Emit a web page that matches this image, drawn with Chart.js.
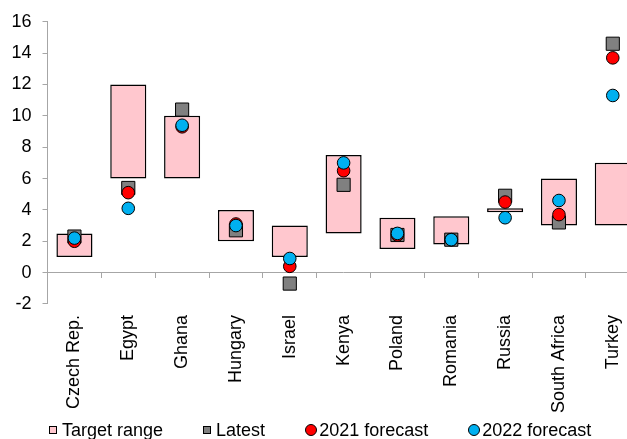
<!DOCTYPE html>
<html>
<head>
<meta charset="utf-8">
<script src="https://cdn.jsdelivr.net/npm/chart.js@4/dist/chart.umd.min.js"></script>
<style>
  body { margin: 0; background: #fff; overflow: hidden; }
  #wrap { position: relative; width: 627px; height: 439px; overflow: hidden; }
  #chart { position: absolute; left: 0; top: 0; }
  #legend {
    position: absolute; left: 49px; top: 421px;
    display: flex; align-items: center; gap: 40px;
    font: 18px "Liberation Sans", Arial, sans-serif; color: #000; line-height: 18px;
  }
  .item { display: flex; align-items: center; white-space: nowrap; }
  .mark { box-sizing: border-box; border: 1px solid #000; margin-right: 5px; }
  .sq { width: 8px; height: 8px; }
  .dot { width: 12px; height: 12px; border-radius: 50%; margin-right: 2px; }
</style>
</head>
<body>
<div id="wrap">
  <canvas id="chart" width="650" height="439"></canvas>
  <div id="legend"></div>
</div>
<script>
const categories = ['Czech Rep.', 'Egypt', 'Ghana', 'Hungary', 'Israel', 'Kenya', 'Poland', 'Romania', 'Russia', 'South Africa', 'Turkey'];
const targetLow  = [1.0, 6.0, 6.0, 2.0, 1.0, 2.5, 1.5, 1.8, 3.85, 3.0, 3.0];
const targetHigh = [2.5, 12.0, 10.0, 4.0, 3.0, 7.5, 3.5, 3.6, 4.1, 6.0, 7.0];
const latest       = [2.3, 5.4, 10.4, 2.7, -0.7, 5.6, 2.4, 2.1, 4.9, 3.2, 14.6];
const forecast2021 = [2.0, 5.1, 9.3, 3.1, 0.4, 6.5, 2.4, 2.1, 4.5, 3.7, 13.7];
const forecast2022 = [2.2, 4.1, 9.4, 3.0, 0.9, 7.0, 2.5, 2.1, 3.5, 4.6, 11.3];

const seriesNames = ['Target range', 'Latest', '2021 forecast', '2022 forecast'];
const colors = {
  target: '#FFC7CE',
  latest: '#808080',
  f2021: '#FF0000',
  f2022: '#00B0F0',
  axis: '#A6A6A6'
};

Chart.defaults.font.family = '"Liberation Sans", Arial, sans-serif';
Chart.defaults.font.size = 18;
Chart.defaults.color = '#000';

function pointSeries(label, data, style, radius, fill, order) {
  return {
    type: 'line',
    label,
    data,
    showLine: false,
    pointStyle: style,
    pointRadius: radius,
    pointHoverRadius: radius,
    pointBackgroundColor: fill,
    pointBorderColor: '#000',
    pointBorderWidth: 1,
    order
  };
}

new Chart(document.getElementById('chart'), {
  type: 'bar',
  data: {
    labels: categories,
    datasets: [
      {
        type: 'bar',
        label: seriesNames[0],
        data: categories.map((_, i) => [targetLow[i], targetHigh[i]]),
        backgroundColor: colors.target,
        borderColor: '#000',
        borderWidth: 1.5,
        borderSkipped: false,
        barPercentage: 0.67,
        categoryPercentage: 1,
        order: 4
      },
      pointSeries(seriesNames[1], latest, 'rect', 9.3, colors.latest, 3),
      pointSeries(seriesNames[2], forecast2021, 'circle', 6.3, colors.f2021, 2),
      pointSeries(seriesNames[3], forecast2022, 'circle', 6.3, colors.f2022, 1)
    ]
  },
  options: {
    responsive: false,
    animation: false,
    layout: { padding: { top: 20, left: 0.5, right: 2.5, bottom: 15 } },
    plugins: {
      legend: { display: false },
      tooltip: { enabled: false }
    },
    scales: {
      x: {
        type: 'category',
        position: { y: 0 },
        offset: true,
        grid: { offset: true, drawOnChartArea: false, drawTicks: true, tickLength: 5, color: colors.axis },
        border: { color: colors.axis, width: 1 },
        ticks: { display: false }
      },
      x2: {
        type: 'category',
        position: 'bottom',
        labels: categories,
        offset: true,
        grid: { display: false, drawTicks: false },
        border: { display: false },
        ticks: { minRotation: 90, maxRotation: 90, autoSkip: false, padding: 11 }
      },
      y: {
        min: -2,
        max: 16,
        ticks: { stepSize: 2, padding: 11 },
        grid: { drawOnChartArea: false, drawTicks: true, tickLength: 5, color: colors.axis },
        border: { color: colors.axis, width: 1 }
      }
    }
  }
});

// legend
const legendEl = document.getElementById('legend');
const legendMarks = [
  { cls: 'sq', color: colors.target },
  { cls: 'sq', color: colors.latest },
  { cls: 'dot', color: colors.f2021 },
  { cls: 'dot', color: colors.f2022 }
];
seriesNames.forEach((name, idx) => {
  const item = document.createElement('div');
  item.className = 'item';
  item.innerHTML = `<div class="mark ${legendMarks[idx].cls}" style="background-color:${legendMarks[idx].color};"></div><span>${name}</span>`;
  legendEl.appendChild(item);
});
</script>
</body>
</html>
